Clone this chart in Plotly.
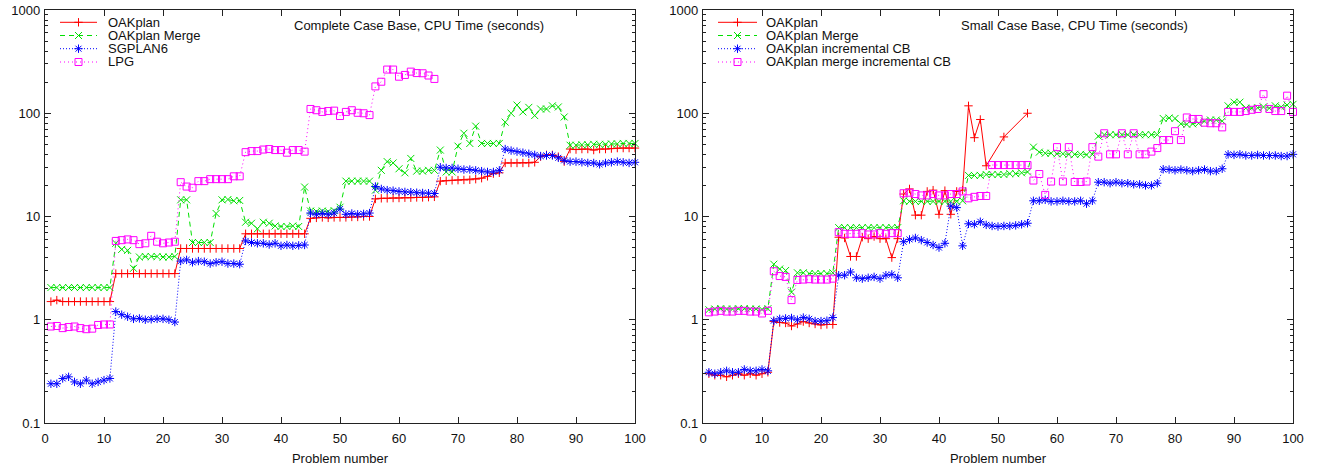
import plotly.graph_objects as go

# ---------------- data ----------------
problems = list(range(1, 101))

# Left: Complete Case Base, CPU Time (seconds)
left_oakplan = [
    1.5, 1.55, 1.5, 1.5, 1.5, 1.5, 1.5, 1.5, 1.5, 1.5, 1.5,
    2.8, 2.8, 2.8, 2.8, 2.8, 2.8, 2.8, 2.8, 2.8, 2.8, 2.8,
    4.9, 4.9, 4.9, 4.9, 4.9, 4.9, 4.9, 4.9, 4.9, 4.9, 4.9,
    6.8, 6.8, 6.8, 6.8, 6.8, 6.8, 6.8, 6.8, 6.8, 6.8, 6.8,
    9.6, 9.7, 9.8, 9.7, 9.8, 9.8, 9.8, 9.9, 9.9, 10.0, 10.0,
    14.8, 15.0, 15.0, 15.1, 15.1, 15.2, 15.2, 15.3, 15.3, 15.4, 15.5,
    22.0, 22.2, 22.4, 22.5, 22.6, 22.7, 23.0, 23.5, 24.5, 26.0, 26.5,
    33.0, 33.0, 33.0, 33.0, 33.0, 33.5, 38.0, 39.5, 39.5, 38.0, 34.0,
    45.0, 44.5, 45.0, 45.0, 44.0, 45.0, 45.0, 45.5, 46.0, 46.0, 46.0, 46.0,
]
left_merge = [
    2.05, 2.05, 2.05, 2.05, 2.05, 2.05, 2.05, 2.05, 2.05, 2.05, 2.05,
    5.5, 4.8, 4.7, 3.15, 4.05, 4.1, 4.1, 4.1, 4.05, 4.05, 4.1,
    14.5, 14.5, 5.6, 5.6, 5.6, 5.6, 10.7, 14.5, 14.6, 14.2, 14.3,
    8.8, 8.6, 7.6, 8.8, 8.6, 8.1, 8.0, 8.0, 8.1, 8.0, 19.3,
    11.3, 11.2, 11.3, 11.2, 11.4, 12.3, 22.0, 22.0, 22.0, 22.0, 22.0,
    18.0, 28.0, 34.0, 33.0, 29.0, 26.5, 36.5, 27.5, 27.5, 28.0, 28.0,
    44.0, 27.0, 27.0, 48.0, 64.0, 51.0, 75.0, 51.0, 51.0, 51.0, 51.0,
    82.0, 100.0, 120.0, 103.0, 114.0, 95.0, 110.0, 110.0, 118.0, 115.0, 92.0,
    49.0, 49.0, 49.5, 49.5, 50.0, 50.0, 50.0, 50.5, 50.5, 51.0, 51.0, 51.0,
]
left_sgplan6 = [
    0.24, 0.24, 0.27, 0.28, 0.25, 0.24, 0.26, 0.24, 0.25, 0.26, 0.27,
    1.2, 1.12, 1.07, 1.02, 1.03, 1.0, 1.01, 1.02, 1.02, 1.0, 0.95,
    3.7, 3.8, 3.6, 3.7, 3.65, 3.5, 3.6, 3.65, 3.5, 3.5, 3.45,
    5.8, 5.6, 5.5, 5.5, 5.35, 5.5, 5.2, 5.3, 5.2, 5.25, 5.3,
    10.8, 10.5, 10.7, 10.5, 10.8, 11.8, 10.5, 10.7, 10.5, 10.6, 10.8,
    19.5, 18.5, 18.0, 17.8, 17.5, 17.3, 17.2, 17.0, 16.9, 16.8, 16.7,
    30.0, 29.5, 29.5, 29.0, 28.5, 28.5, 28.0, 27.5, 27.0, 27.0, 28.0,
    45.0, 43.5, 42.5, 41.5, 40.5, 39.5, 38.5, 39.0, 39.0, 37.0, 35.0,
    34.0, 34.0, 33.5, 33.0, 33.0, 32.0, 33.0, 33.5, 34.0, 33.5, 33.0, 33.5,
]
left_lpg = [
    0.86, 0.87, 0.83, 0.85, 0.86, 0.83, 0.81, 0.82, 0.89, 0.9, 0.9,
    5.8, 5.9, 6.0, 5.9, 5.4, 5.5, 6.5, 5.7, 5.5, 5.6, 5.7,
    21.5, 19.5, 19.0, 22.0, 22.0, 23.0, 23.0, 23.0, 23.0, 24.5, 24.5,
    42.0, 43.0, 43.0, 44.5, 45.0, 44.0, 44.0, 41.5, 44.0, 44.0, 42.5,
    110.0, 107.0, 103.0, 105.0, 106.0, 94.0, 103.0, 107.0, 101.0, 100.0, 96.0,
    182.0, 202.0, 265.0, 265.0, 226.0, 235.0, 253.0, 245.0, 244.0, 232.0, 215.0,
]

# Right: Small Case Base, CPU Time (seconds)
right_oakplan = [
    0.3, 0.29, 0.29, 0.28, 0.29, 0.3, 0.29, 0.3, 0.29, 0.3, 0.31,
    0.96, 0.94, 0.93, 0.87, 0.91, 0.96, 0.93, 0.91, 0.89, 0.9, 0.9,
    6.3, 6.2, 4.1, 4.1, 6.3, 6.1, 6.4, 6.1, 6.1, 4.0, 6.1,
    16.5, 18.5, 10.3, 10.3, 17.5, 18.0, 10.5, 17.8, 10.5, 17.5, 18.0,
    118.0, 58.0, 87.0, 31.0, None, None, 59.0, None, None, None, 100.0,
]
right_merge = [
    1.25, 1.27, 1.28, 1.27, 1.27, 1.28, 1.28, 1.27, 1.27, 1.26, 1.28,
    3.45, 3.1, 3.0, 1.85, 2.85, 2.85, 2.8, 2.8, 2.8, 2.8, 2.85,
    7.8, 7.8, 7.8, 7.8, 7.8, 7.8, 7.8, 7.8, 7.8, 7.8, 7.8,
    14.2, 14.0, 14.0, 14.0, 14.0, 14.0, 14.0, 14.0, 14.0, 14.0, 14.2,
    25.0, 25.0, 25.0, 25.5, 25.5, 25.5, 25.5, 26.0, 26.0, 26.5, 27.0,
    47.0, 42.0, 41.0, 41.0, 40.5, 40.5, 40.0, 40.0, 40.0, 39.5, 40.0,
    60.0, 62.0, 62.0, 62.0, 62.0, 62.0, 62.0, 62.0, 62.0, 62.0, 62.0,
    89.0, 90.0, 89.0, 79.0, 78.0, 79.0, 80.0, 84.0, 86.0, 86.0, 84.0,
    118.0, 128.0, 128.0, 112.0, 112.0, 113.0, 115.0, 112.0, 118.0, 115.0, 120.0, 122.0,
]
right_incremental = [
    0.31, 0.3, 0.31, 0.32, 0.31, 0.31, 0.33, 0.32, 0.32, 0.33, 0.32,
    0.98, 1.02, 1.03, 1.04, 1.0, 1.05, 1.02, 0.97, 0.97, 0.98, 1.05,
    2.7, 2.7, 2.9, 2.55, 2.5, 2.55, 2.6, 2.5, 2.7, 2.75, 2.55,
    5.7, 6.0, 6.2, 5.9, 5.6, 5.3, 5.0, 5.5, 12.6, 12.2, 5.2,
    8.5, 8.4, 8.9, 8.3, 8.1, 8.0, 8.1, 8.1, 8.2, 8.4, 8.6,
    14.2, 14.2, 14.5, 14.0, 14.0, 14.2, 14.0, 14.0, 14.2, 13.3, 14.2,
    21.5, 21.5, 21.0, 21.5, 21.0, 21.0, 20.5, 20.5, 20.0, 20.0, 21.0,
    28.7, 28.5, 28.0, 28.5, 28.0, 27.5, 28.0, 28.5, 27.5, 27.5, 29.0,
    40.0, 39.5, 40.0, 39.0, 39.0, 39.5, 39.0, 39.0, 39.0, 38.5, 38.5, 40.0,
]
right_merge_incremental = [
    1.18, 1.2, 1.22, 1.2, 1.2, 1.22, 1.22, 1.2, 1.2, 1.15, 1.22,
    2.95, 2.65, 2.6, 1.55, 2.43, 2.45, 2.47, 2.45, 2.45, 2.45, 2.5,
    7.05, 6.8, 6.8, 6.8, 6.9, 6.7, 6.7, 6.9, 6.8, 6.9, 6.9,
    16.8, 17.0, 16.5, 16.0, 16.0, 16.5, 16.0, 16.0, 16.5, 16.5, 17.5,
    15.0, 15.5, 15.8, 15.8, 31.5, 31.5, 31.5, 31.5, 31.5, 31.5, 31.5,
    22.3, 25.8, 16.2, 21.8, 47.0, 21.8, 47.0, 21.6, 21.6, 21.8, 47.0,
    38.0, 64.0, 40.0, 40.0, 64.0, 40.0, 64.0, 40.0, 40.0, 42.5, 46.0,
    55.0, 55.0, 67.0, 55.0, 91.0, 88.0, 88.0, 81.0, 80.0, 80.0, 73.0,
    103.0, 103.0, 103.0, 105.0, 108.0, 110.0, 153.0, 110.0, 105.0, 105.0, 148.0, 103.0,
]

x_tick_vals = [0, 10, 20, 30, 40, 50, 60, 70, 80, 90, 100]
left_title = "Complete Case Base, CPU Time (seconds)"
right_title = "Small Case Base, CPU Time (seconds)"
x_title = "Problem number"

# ---------------- styles ----------------
RED, GREEN, BLUE, MAGENTA = "#ff0000", "#00e000", "#0000ff", "#ff00ff"


def mk(symbol, size, color):
    return dict(symbol=symbol, size=size, color=color, line=dict(color=color, width=1))


styles = {
    "red": dict(line=dict(color=RED, width=1), marker=mk("cross-thin", 6, RED)),
    "green": dict(line=dict(color=GREEN, width=1, dash="5px,4px"), marker=mk("x-thin", 7, GREEN)),
    "blue": dict(line=dict(color=BLUE, width=1, dash="1px,2px"), marker=mk("asterisk-open", 7, BLUE)),
    "magenta": dict(line=dict(color=MAGENTA, width=1, dash="1px,3px"), marker=mk("square-open", 7, MAGENTA)),
}

W, H = 1317, 466
ML, MR, MT, MB = 45, 24, 10, 43
PW, PH = W - ML - MR, H - MT - MB


def px(x):
    return (x - ML) / PW


def py(y):
    return (H - MB - y) / PH


FONT = "Liberation Sans, Arial, Helvetica, sans-serif"
TXT = "#111"

fig = go.Figure()

left_series = [
    ("OAKplan", left_oakplan, "red"),
    ("OAKplan Merge", left_merge, "green"),
    ("SGPLAN6", left_sgplan6, "blue"),
    ("LPG", left_lpg, "magenta"),
]
right_series = [
    ("OAKplan", right_oakplan, "red"),
    ("OAKplan Merge", right_merge, "green"),
    ("OAKplan incremental CB", right_incremental, "blue"),
    ("OAKplan merge incremental CB", right_merge_incremental, "magenta"),
]

for name, vals, st in left_series:
    fig.add_trace(go.Scatter(x=problems[:len(vals)], y=vals, name=name, mode="lines+markers",
                             xaxis="x", yaxis="y", showlegend=False, connectgaps=True,
                             cliponaxis=False, **styles[st]))
for name, vals, st in right_series:
    fig.add_trace(go.Scatter(x=problems[:len(vals)], y=vals, name=name, mode="lines+markers",
                             xaxis="x2", yaxis="y2", showlegend=False, connectgaps=True,
                             cliponaxis=False, **styles[st]))

# custom compact legends drawn on an overlay axis in paper coordinates
legend_rows = [22.3, 35.5, 48.7, 62.0]
annotations = []
for (series, x0, x1, xt) in [(left_series, 60, 97, 106), (right_series, 718, 757, 764)]:
    for (name, _, st), yy in zip(series, legend_rows):
        fig.add_trace(go.Scatter(x=[px(x0), px(x1)], y=[py(yy), py(yy)], mode="lines",
                                 xaxis="x3", yaxis="y3", showlegend=False, hoverinfo="skip",
                                 line=styles[st]["line"]))
        fig.add_trace(go.Scatter(x=[px((x0 + x1) / 2)], y=[py(yy)], mode="markers",
                                 xaxis="x3", yaxis="y3", showlegend=False, hoverinfo="skip",
                                 marker=styles[st]["marker"]))
        annotations.append(dict(text=name, x=px(xt), y=py(yy), xref="paper", yref="paper",
                                xanchor="left", yanchor="middle", showarrow=False,
                                font=dict(family=FONT, size=13, color=TXT)))

annotations.append(dict(text=left_title, x=px(418.5), y=py(26), xref="paper", yref="paper",
                        xanchor="center", yanchor="middle", showarrow=False,
                        font=dict(family=FONT, size=13, color=TXT)))
annotations.append(dict(text=right_title, x=px(1074), y=py(26), xref="paper", yref="paper",
                        xanchor="center", yanchor="middle", showarrow=False,
                        font=dict(family=FONT, size=13, color=TXT)))

common_x = dict(range=[0, 100], tickmode="array", tickvals=x_tick_vals, ticks="inside", ticklen=6,
                showline=True, linecolor="#222", linewidth=1.3, mirror="ticks",
                showgrid=False, zeroline=False, tickcolor="#222", automargin=False,
                tickfont=dict(family=FONT, size=13, color=TXT), ticklabelstandoff=3,
                title=dict(text=x_title, font=dict(family=FONT, size=13, color=TXT), standoff=9))
common_y = dict(type="log", range=[-1, 3], tickmode="linear", tick0=0, dtick=1,
                exponentformat="none", ticks="inside", ticklen=6, showline=True,
                linecolor="#222", linewidth=1.3, mirror="ticks", showgrid=False,
                zeroline=False, tickcolor="#222", automargin=False,
                tickfont=dict(family=FONT, size=13, color=TXT), ticklabelstandoff=1,
                minor=dict(dtick="D1", ticks="inside", ticklen=3,
                           tickcolor="#222", tickwidth=1, showgrid=False))

left_domain = [0, px(635)]
right_domain = [px(703), 1]

fig.update_layout(
    width=W, height=H,
    margin=dict(l=ML, r=MR, t=MT, b=MB),
    paper_bgcolor="white", plot_bgcolor="rgba(0,0,0,0)",
    showlegend=False,
    xaxis=dict(domain=left_domain, anchor="y", **common_x),
    yaxis=dict(domain=[0, 1], anchor="x", **common_y),
    xaxis2=dict(domain=right_domain, anchor="y2", **common_x),
    yaxis2=dict(domain=[0, 1], anchor="x2", **common_y),
    xaxis3=dict(domain=[0, 1], range=[0, 1], visible=False, anchor="y3", fixedrange=True),
    yaxis3=dict(domain=[0, 1], range=[0, 1], visible=False, anchor="x3", fixedrange=True),
    annotations=annotations,
)

fig.write_html("out.html", config={"displayModeBar": False},
               post_script="document.body.style.margin='0';")
